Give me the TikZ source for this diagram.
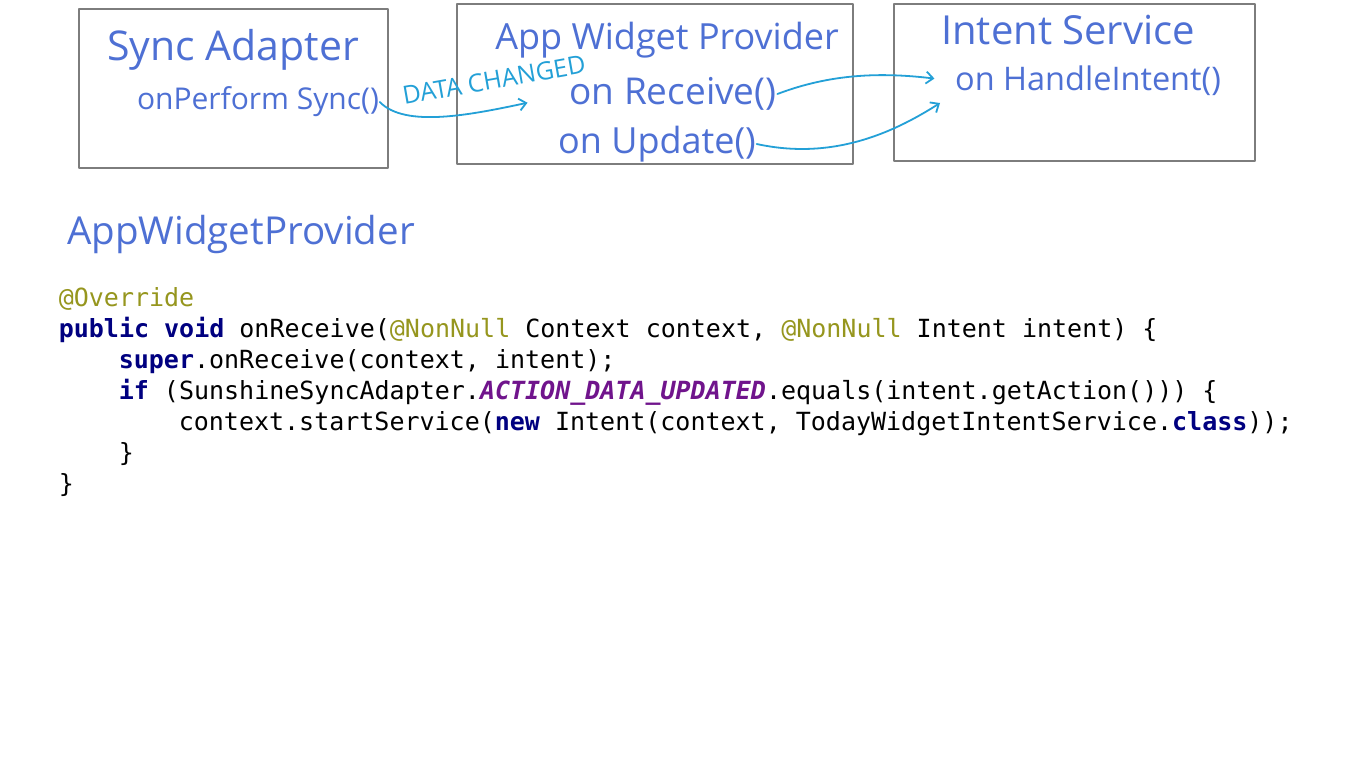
\documentclass[tikz,border=0pt]{standalone}
\usepackage{fontspec}
\setmainfont{Open Sans}
\setmonofont{DejaVu Sans Mono}
\newfontfamily\handfont{Open Sans}
\usetikzlibrary{arrows.meta}
\usetikzlibrary{positioning}
\definecolor{handblue}{RGB}{78,112,212}
\definecolor{arrowcyan}{RGB}{35,160,215}
\definecolor{boxgray}{RGB}{125,125,125}
\definecolor{annot}{RGB}{150,150,30}
\definecolor{kw}{RGB}{0,0,128}
\definecolor{cpurple}{RGB}{112,20,140}
\tikzstyle{every path}=[line width=1.6pt,line cap=round,line join=round]
\tikzstyle{classbox}=[draw=boxgray,line width=2.2pt]
\tikzstyle{hand}=[text=handblue,inner sep=0pt]
\tikzstyle{flow}=[draw=arrowcyan,line width=1.8pt,-{Straight Barb[length=7pt,width=12pt]}]
\tikzstyle{code}=[anchor=base west,inner sep=0pt,font=\ttfamily\fontsize{25}{31}\selectfont]
\newcommand{\handsz}[1]{\handfont\fontsize{#1}{#1}\selectfont}
\newcommand{\kw}[1]{\textcolor{kw}{\textbf{#1}}}
\newcommand{\annot}[1]{\textcolor{annot}{#1}}

\begin{document}
\begin{tikzpicture}[x=1pt,y=-1pt]
  \useasboundingbox[fill=white] (0,0) rectangle (1366,768);
  % the three classes
  \draw[classbox] (79,9) rectangle (388,168);
  \draw[classbox] (457,4) rectangle (853,164);
  \draw[classbox] (894,4) rectangle (1255,161);
  \node[hand,font=\handsz{41}] (syncname) at (233,50) {Sync Adapter};
  \node[hand,font=\handsz{30}] (perform) at (258,102) {onPerform Sync()};
  \node[hand,font=\handsz{36}] (widgetname) at (667,40) {App Widget Provider};
  \node[hand,font=\handsz{37}] (receive) at (673,94) {on Receive()};
  \node[hand,font=\handsz{36}] (update) at (657,144) {on Update()};
  \node[hand,font=\handsz{40}] (servicename) at (1068,30) {Intent Service};
  \node[hand,font=\handsz{32.5}] (handle) at (1088,81) {on HandleIntent()};
  \node[hand,text=arrowcyan,font=\handsz{25},rotate=10] (changed) at (494,80) {DATA CHANGED};
  % calls between them
  \draw[flow,shorten >=42pt] (perform.east) .. controls (405,128) and (470,115) .. (receive.west);
  \draw[flow,shorten >=20pt] (receive.east) .. controls (830,74) and (880,72) .. (handle.west);
  \draw[flow] (update.east) .. controls (830,160) and (890,135) .. (940,103);
  % the code
  \node[hand,font=\handsz{38.5}] (heading) at (241,234) {AppWidgetProvider};
  \node[code] (l1) at (58,306) {\annot{@Override}};
  \node[code] (l2) at (58,337) {\kw{public} \kw{void} onReceive(\annot{@NonNull} Context context, \annot{@NonNull} Intent intent) \{};
  \node[code] (l3) at (118,368) {\kw{super}.onReceive(context, intent);};
  \node[code] (l4) at (118,399) {\kw{if} (SunshineSyncAdapter.\textcolor{cpurple}{\textbf{\textit{ACTION\_DATA\_UPDATED}}}.equals(intent.getAction())) \{};
  \node[code] (l5) at (178,430) {context.startService(\kw{new} Intent(context, TodayWidgetIntentService.\kw{class}));};
  \node[code] (l6) at (118,461) {\}};
  \node[code] (l7) at (58,492) {\}};
\end{tikzpicture}
\end{document}
